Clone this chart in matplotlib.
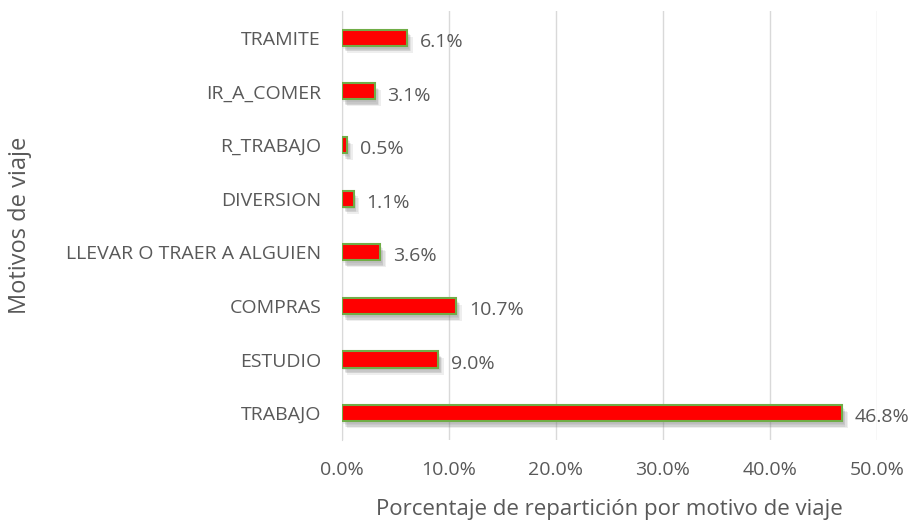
import matplotlib
matplotlib.use("Agg")
import matplotlib.pyplot as plt
import matplotlib.patheffects as pe
from matplotlib.ticker import FuncFormatter

categories = ["TRABAJO", "ESTUDIO", "COMPRAS", "LLEVAR O TRAER A ALGUIEN",
              "DIVERSION", "R_TRABAJO", "IR_A_COMER", "TRAMITE"]
values = [46.8, 9.0, 10.7, 3.6, 1.1, 0.5, 3.1, 6.1]

plt.rcParams['font.family'] = ['Open Sans', 'DejaVu Sans']
grey = '#595959'

fig = plt.figure(figsize=(9.19, 5.25), dpi=100)
ax = fig.add_axes([0.372, 0.162, 0.582, 0.817])

bars = ax.barh(range(len(categories)), values, height=0.3, color='#FF0000',
               edgecolor='#70AD47', linewidth=1.5, zorder=3)
# soft drop shadow
shadow = [pe.SimplePatchShadow(offset=(dx, dy), shadow_rgbFace='#7a7a7a', alpha=0.12)
          for dx, dy in [(1, -2), (2, -3), (3, -4), (4, -5), (2, -4)]]
for b in bars:
    b.set_path_effects(shadow + [pe.Normal()])

for i, v in enumerate(values):
    ax.annotate(f"{v:.1f}%", (v, i), xytext=(9, -3), textcoords='offset points',
                va='center', ha='left', fontsize=14, color=grey)

ax.set_xlim(0, 50)
ax.set_ylim(-0.5, len(categories) - 0.5)
ax.set_xticks(range(0, 51, 10))
ax.xaxis.set_major_formatter(FuncFormatter(lambda x, p: f"{x:.1f}%"))
ax.set_yticks(range(len(categories)))
ax.set_yticklabels(categories)
ax.tick_params(axis='both', length=0, labelsize=14, colors=grey)
ax.tick_params(axis='x', pad=15)
ax.tick_params(axis='y', pad=15)

ax.grid(axis='x', color='#D9D9D9', linewidth=1, zorder=0)
for s in ['top', 'right', 'bottom']:
    ax.spines[s].set_visible(False)
ax.spines['left'].set_color('#D9D9D9')

ax.set_xlabel("Porcentaje de repartición por motivo de viaje", fontsize=16, color=grey)
ax.set_ylabel("Motivos de viaje", fontsize=17, color=grey)
ax.xaxis.set_label_coords(0.5, -0.137)
ax.yaxis.set_label_coords(-0.579, 0.5)

fig.savefig("out.png", dpi=100)
